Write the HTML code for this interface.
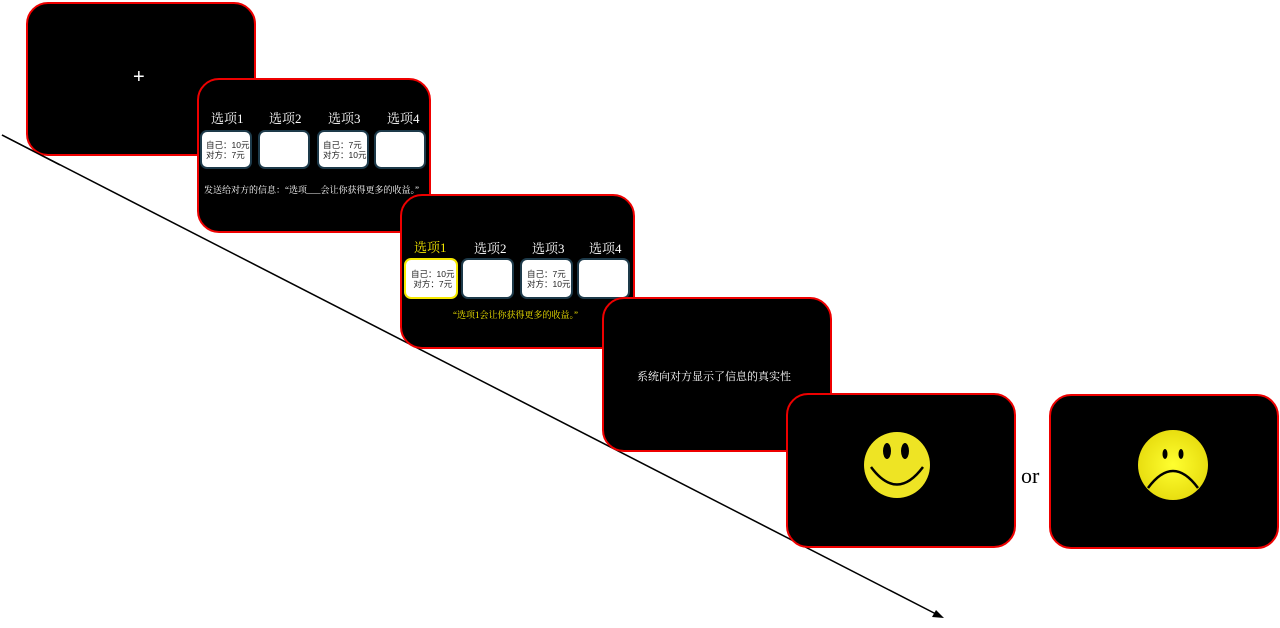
<!DOCTYPE html>
<html><head><meta charset="utf-8"><style>
body{margin:0;width:1280px;height:628px;background:#fff;position:relative;overflow:hidden;font-family:"Liberation Serif","Noto Serif CJK SC",serif}
.s{position:absolute;background:#000;border:2px solid #e00;border-radius:22px;box-sizing:border-box}
.t{position:absolute;color:#fff;white-space:nowrap}
.b{position:absolute;background:#fff;border:2px solid #1d3a4a;border-radius:7px;box-sizing:border-box;font-family:"Liberation Sans","Noto Sans CJK SC",sans-serif;font-size:8.5px;color:#222;line-height:10px;white-space:nowrap;overflow:visible}
</style></head><body>
<svg style="position:absolute;left:0;top:0" width="1280" height="628">
<line x1="2" y1="135" x2="936" y2="614" stroke="#000" stroke-width="1.5"/>
<polygon points="944,618 932,617 936,610" fill="#000"/>
</svg>
<div class="s" style="left:26px;top:2px;width:230px;height:154px"></div>
<div class="t" style="left:133px;top:66px;font-size:20px;font-family:'Liberation Sans',sans-serif">+</div>
<svg style="position:absolute;left:0;top:0" width="1280" height="628"><line x1="2" y1="135" x2="60" y2="165" stroke="#000" stroke-width="1.5"/></svg>

<div class="s" style="left:197px;top:78px;width:234px;height:155px"></div>
<div class="t" style="left:211px;top:108px;font-size:13px">选项1</div>
<div class="t" style="left:269px;top:108px;font-size:13px">选项2</div>
<div class="t" style="left:328px;top:108px;font-size:13px">选项3</div>
<div class="t" style="left:387px;top:108px;font-size:13px">选项4</div>
<div class="b" style="left:200px;top:130px;width:52px;height:39px;padding:8px 0 0 4px">自己：10元<br>对方：7元</div>
<div class="b" style="left:258px;top:130px;width:52px;height:39px"></div>
<div class="b" style="left:317px;top:130px;width:52px;height:39px;padding:8px 0 0 4px">自己：7元<br>对方：10元</div>
<div class="b" style="left:374px;top:130px;width:52px;height:39px"></div>
<div class="t" style="left:204px;top:183px;font-size:9px">发送给对方的信息：“选项___会让你获得更多的收益。”</div>

<div class="s" style="left:400px;top:194px;width:235px;height:155px"></div>
<div class="t" style="left:414px;top:237px;font-size:13px;color:#f5e800">选项1</div>
<div class="t" style="left:474px;top:238px;font-size:13px">选项2</div>
<div class="t" style="left:532px;top:238px;font-size:13px">选项3</div>
<div class="t" style="left:589px;top:238px;font-size:13px">选项4</div>
<div class="b" style="left:404px;top:258px;width:54px;height:41px;border-color:#f5e800;padding:9px 0 0 5px">自己：10元<br>&nbsp;对方：7元</div>
<div class="b" style="left:461px;top:258px;width:53px;height:41px"></div>
<div class="b" style="left:520px;top:258px;width:53px;height:41px;padding:9px 0 0 5px">自己：7元<br>对方：10元</div>
<div class="b" style="left:577px;top:258px;width:53px;height:41px"></div>
<div class="t" style="left:453px;top:308px;font-size:9px;color:#f5e800">“选项1会让你获得更多的收益。”</div>

<div class="s" style="left:602px;top:297px;width:230px;height:155px"></div>
<div class="t" style="left:637px;top:368px;font-size:11px">系统向对方显示了信息的真实性</div>

<div class="s" style="left:786px;top:393px;width:230px;height:155px"></div>
<svg style="position:absolute;left:860px;top:430px" width="75" height="72">
<circle cx="37" cy="35" r="33" fill="#eee424"/>
<ellipse cx="27" cy="21" rx="4" ry="8" fill="#000"/><ellipse cx="45" cy="21" rx="4" ry="8" fill="#000"/>
<path d="M11 37 Q37 72 63 37" fill="none" stroke="#000" stroke-width="2.5"/>
</svg>
<div class="t" style="left:1021px;top:463px;font-size:22px;color:#000">or</div>
<div class="s" style="left:1049px;top:394px;width:230px;height:155px"></div>
<svg style="position:absolute;left:1136px;top:430px" width="76" height="72">
<defs><radialGradient id="g"><stop offset="0" stop-color="#ffff30"/><stop offset="1" stop-color="#e8de10"/></radialGradient></defs>
<circle cx="37" cy="35" r="35" fill="url(#g)"/>
<ellipse cx="29" cy="24" rx="2.5" ry="5" fill="#000"/><ellipse cx="45" cy="24" rx="2.5" ry="5" fill="#000"/>
<path d="M12 58 Q37 24 62 58" fill="none" stroke="#000" stroke-width="2.5"/>
</svg>
</body></html>
